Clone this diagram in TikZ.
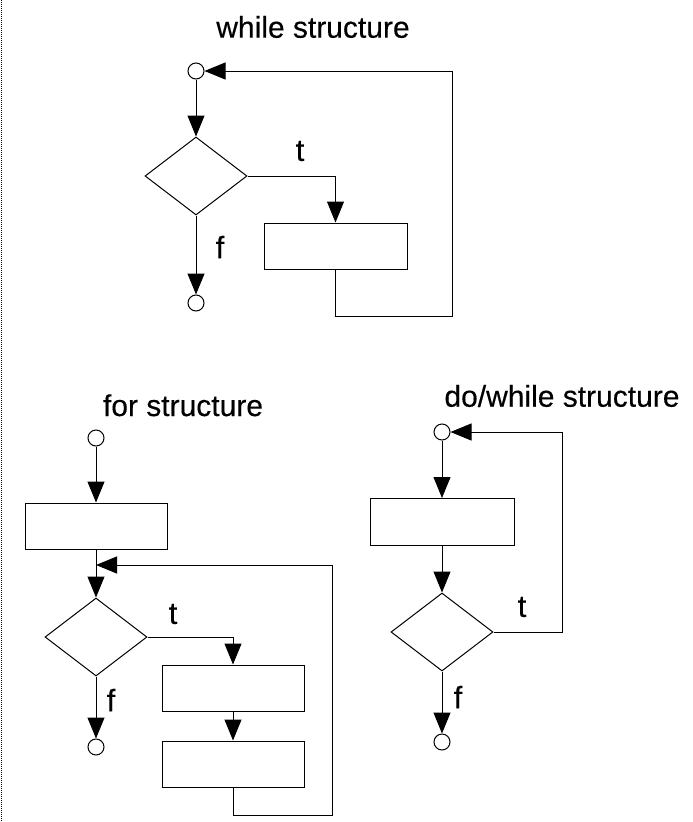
\documentclass[tikz,border=0pt]{standalone}
\usepackage{fontspec}
\setmainfont{Liberation Sans}
\usetikzlibrary{shapes.geometric,arrows.meta}
\begin{document}
\begin{tikzpicture}[x=1pt,y=-1pt,
  line width=1pt,
  arr/.style={-{Triangle[length=21pt,width=17pt]}},
  term/.style={circle,draw,fill=white,minimum size=16pt,inner sep=0pt},
  proc/.style={rectangle,draw,minimum width=143pt,minimum height=46pt,inner sep=0pt},
  cond/.style={diamond,draw,minimum width=102pt,minimum height=78pt,inner sep=0pt},
  ttl/.style={font=\fontsize{30}{34}\selectfont\addfontfeature{FakeBold=0.3},inner sep=0pt,anchor=base},
  lbl/.style={font=\fontsize{31}{35}\selectfont\addfontfeature{FakeBold=0.3},inner sep=0pt}]
\useasboundingbox (0,0) rectangle (693,822);
% dotted margin rule
\draw[line width=1pt,dash pattern=on 1pt off 1pt] (1.5,0) -- (1.5,822);

% ---- while structure ----
\node[ttl] (wt) at (313,37.7) {while structure};
\node[term] (wc1) at (196,71) {};
\node[cond] (wd) at (196,176) {};
\node[proc] (wb) at (335.5,246) {};
\node[term] (wc2) at (196,303) {};
\coordinate (w1) at (452,316);
\coordinate (w2) at (452,71);
\draw[arr] (wc1) -- (wd.north);
\draw[arr] (wd.east) -| (wb.north);
\draw[arr] (wd.south) -- (wc2.north);
\draw[arr] (wb.south) |- (w1) -- (w2) -- (wc1.east);
\node[lbl] (wtl) at (300,151) {t};
\node[lbl] (wfl) at (220,247) {f};

% ---- for structure ----
\node[ttl] (ft) at (183,416) {for structure};
\node[term] (fc1) at (96,438) {};
\node[proc,minimum width=142pt] (fb0) at (96,526) {};
\node[cond] (fd) at (96,637) {};
\node[proc,minimum width=142pt] (fb1) at (233,688) {};
\node[proc,minimum width=142pt] (fb2) at (233,764) {};
\node[term] (fc2) at (96,747) {};
\coordinate (fm) at (96,565);
\coordinate (f1) at (332,815);
\coordinate (f2) at (332,565);
\draw[arr] (fc1) -- (fb0.north);
\draw[arr] (fb0.south) -- (fd.north);
\draw[arr] (fd.east) -| (fb1.north);
\draw[arr] (fb1.south) -- (fb2.north);
\draw[arr] (fd.south) -- (fc2.north);
\draw[arr] (fb2.south) |- (f1) -- (f2) -- (fm);
\node[lbl] (ftl) at (173,614) {t};
\node[lbl] (ffl) at (111,700) {f};

% ---- do/while structure ----
\node[ttl] (dt) at (562,406.7) {do/while structure};
\node[term] (dc1) at (442,432) {};
\node[proc,minimum width=144pt,minimum height=47pt] (db) at (442,522) {};
\node[cond] (dd) at (442,632) {};
\node[term] (dc2) at (442,742) {};
\coordinate (d1) at (562,632);
\coordinate (d2) at (562,432);
\draw[arr] (dc1) -- (db.north);
\draw[arr] (db.south) -- (dd.north);
\draw[arr] (dd.south) -- (dc2.north);
\draw[arr] (dd.east) -- (d1) -- (d2) -- (dc1.east);
\node[lbl] (dtl) at (522,607) {t};
\node[lbl] (dfl) at (458,697) {f};
\end{tikzpicture}
\end{document}
